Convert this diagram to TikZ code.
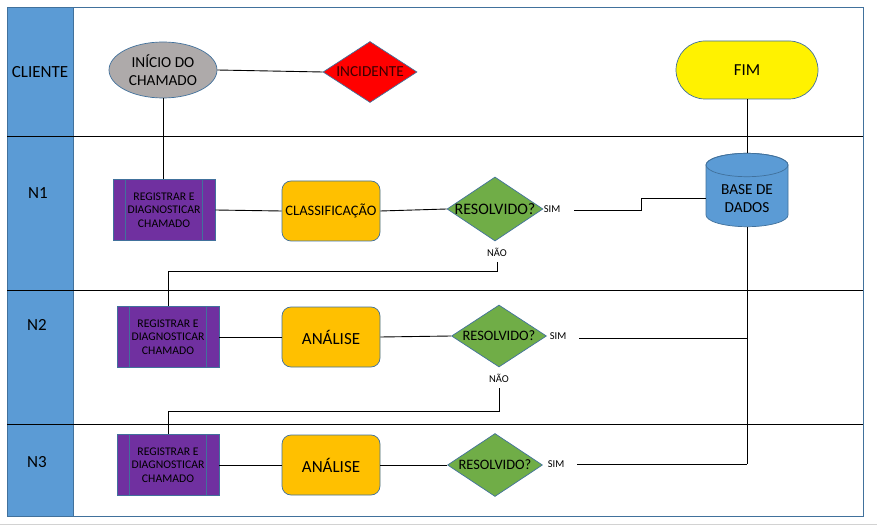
\documentclass[tikz,border=0pt]{standalone}
\usepackage{fontspec}
\setmainfont{Carlito}
\usetikzlibrary{shapes.geometric,shapes.misc,calc}
\definecolor{framec}{HTML}{41719C}
\definecolor{hdr}{HTML}{5B9BD5}
\definecolor{grayf}{HTML}{AEAAAA}
\definecolor{purp}{HTML}{7030A0}
\definecolor{orng}{HTML}{FFC000}
\definecolor{grn}{HTML}{70AD47}
\definecolor{inctext}{HTML}{3A0000}
\newcommand\proclines[1]{\draw[shapebd] ($(#1.north west)+(13,0)$) -- ($(#1.south west)+(13,0)$) ($(#1.north east)+(-13,0)$) -- ($(#1.south east)+(-13,0)$);}
\begin{document}
\begin{tikzpicture}[x=1pt,y=-1pt,
  shapebd/.style={draw=framec, line width=0.7pt},
  conn/.style={draw=black, line width=0.9pt},
  lanel/.style={draw=black, line width=0.8pt},
  lanetxt/.style={font=\fontsize{17}{19}\selectfont},
  regbox/.style={shapebd, fill=purp, rectangle, minimum width=102pt, minimum height=61pt, inner sep=0pt, align=center, font=\fontsize{11.7}{13.7}\selectfont},
  procr/.style={shapebd, fill=orng, rectangle, rounded corners=9pt, minimum width=98pt, minimum height=60pt, inner sep=0pt, align=center},
  dec/.style={shapebd, fill=grn, diamond, inner sep=0pt, minimum width=95pt, minimum height=63pt},
  small/.style={font=\fontsize{10.5}{12}\selectfont, inner sep=1pt}
]
\useasboundingbox (0,0) rectangle (877,526);
\draw[gray!35, line width=1pt] (0,524) -- (877,524);
% frame and header
\draw[framec, line width=0.9pt, fill=white] (7,7) rectangle (863,516);
\draw[framec, line width=0.9pt, fill=hdr] (7,7) rectangle (73,516);
\draw[lanel] (7,136) -- (863,136);
\draw[lanel] (7,290) -- (863,290);
\draw[lanel] (7,424) -- (863,424);
\node[lanetxt] (lcli) at (40,72) {CLIENTE};
\node[lanetxt] (ln1) at (38,193) {N1};
\node[lanetxt] (ln2) at (37,325) {N2};
\node[lanetxt] (ln3) at (37,462) {N3};

% nodes
\node[shapebd, ellipse, fill=grayf, minimum width=108pt, minimum height=56pt, inner sep=0pt, align=center, font=\fontsize{15.3}{18}\selectfont] (ini) at (163,70) {INÍCIO DO\\CHAMADO};
\node[shapebd, diamond, fill=red, inner sep=0pt, minimum width=94pt, minimum height=61pt, text=inctext, font=\fontsize{15.3}{18}\selectfont] (inc) at (370,72) {\makebox[0pt]{INCIDENTE}};
\node[shapebd, rounded rectangle, fill=yellow, minimum width=142pt, minimum height=58pt, inner sep=0pt, font=\fontsize{16.8}{19}\selectfont] (fim) at (747,70) {FIM};

% cylinder
\path[shapebd, fill=hdr] (706,165) -- (706,215) arc[start angle=180, end angle=0, x radius=41, y radius=11.7] -- (788,165) arc[start angle=0, end angle=-180, x radius=41, y radius=11.7] -- cycle;
\draw[shapebd] (747,165) ellipse[x radius=41, y radius=11.7];
\node[minimum width=82pt, minimum height=74pt, inner sep=0pt] (bd) at (747,190) {};
\node[align=center, font=\fontsize{15.3}{18}\selectfont] (bdt) at (747,199) {BASE DE\\DADOS};

% lane N1
\node[regbox] (r1) at (164,210) {REGISTRAR E\\DIAGNOSTICAR\\CHAMADO};
\node[procr, font=\fontsize{14.5}{16}\selectfont] (c1) at (331,211) {CLASSIFICAÇÃO};
\node[dec, minimum width=96pt, minimum height=64pt, font=\fontsize{16}{18}\selectfont] (d1) at (495,209) {\makebox[0pt]{RESOLVIDO?}};
\node[small] (sim1) at (552,209) {SIM};
\node[small] (nao1) at (497,252) {NÃO};
% lane N2
\node[regbox] (r2) at (168,337) {REGISTRAR E\\DIAGNOSTICAR\\CHAMADO};
\node[procr, font=\fontsize{17}{19}\selectfont] (a2) at (331,337) {ANÁLISE};
\node[dec, minimum height=62pt, font=\fontsize{14.4}{17}\selectfont] (d2) at (499,336) {\makebox[0pt]{RESOLVIDO?}};
\node[small] (sim2) at (558,336) {SIM};
\node[small] (nao2) at (499,378) {NÃO};
% lane N3
\node[regbox] (r3) at (168,465) {REGISTRAR E\\DIAGNOSTICAR\\CHAMADO};
\node[procr, font=\fontsize{17}{19}\selectfont] (a3) at (331,465) {ANÁLISE};
\node[dec, font=\fontsize{14.4}{17}\selectfont] (d3) at (495,465) {\makebox[0pt]{RESOLVIDO?}};
\node[small] (sim3) at (556,464) {SIM};

\proclines{r1}
\proclines{r2}
\proclines{r3}

% coordinates
\coordinate (s1) at (574,210);
\coordinate (k1) at (641,198);
\coordinate (s2) at (579,338);
\coordinate (s3) at (577,464);
\coordinate (t1) at (0,271);
\coordinate (t2) at (0,411);
\coordinate (n1s) at (497,262);
\coordinate (n2s) at (499,388);

% connectors
\draw[conn] (ini.east) -- (inc.west);
\draw[conn] (ini.south) -- (ini.south |- r1.north);
\draw[conn] (r1.east) -- (c1.west);
\draw[conn] (c1.east) -- (d1.west);
\draw[conn] (s1) -| (k1) -- (k1 -| bd.west);
\draw[conn] (fim.south) -- (bd.north);
\draw[conn] (bd.south) -- (bd.south |- s3);
\draw[conn] (s2) -- (s2 -| bd.south);
\draw[conn] (s3) -- (s3 -| bd.south);
\draw[conn] (n1s) -- (n1s |- t1) -| (r2.north);
\draw[conn] (r2.east) -- (a2.west);
\draw[conn] (a2.east) -- (d2.west);
\draw[conn] (n2s) -- (n2s |- t2) -| (r3.north);
\draw[conn] (r3.east) -- (a3.west);
\draw[conn] (a3.east) -- (d3.west);
\end{tikzpicture}
\end{document}
